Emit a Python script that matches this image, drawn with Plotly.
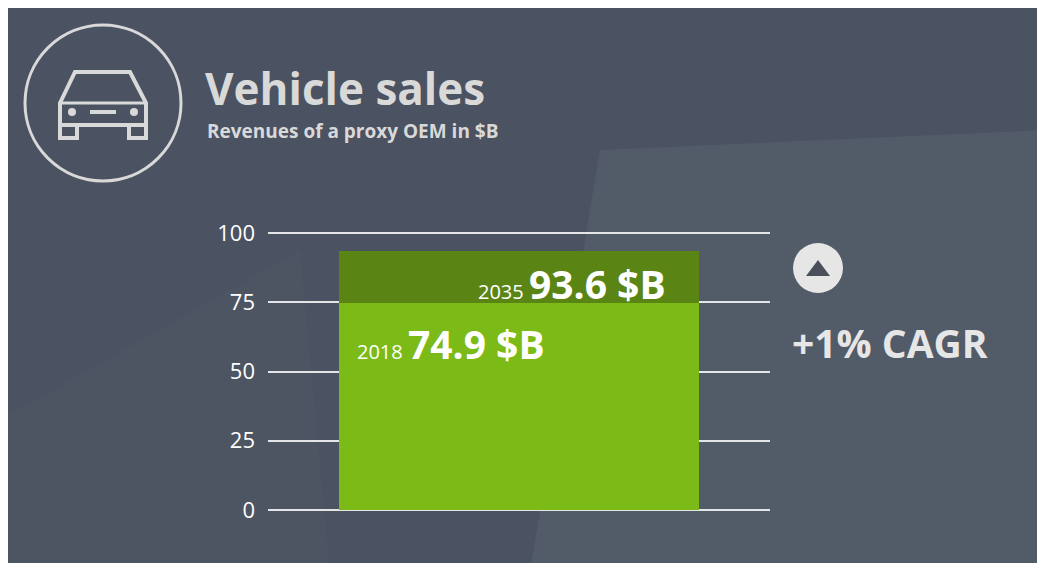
import plotly.graph_objects as go

# data
categories = ["Revenue"]
base_2018 = [74.9]
value_2035 = [93.6]
growth = [v - b for v, b in zip(value_2035, base_2018)]
tick_vals = [0, 25, 50, 75, 100]

OFF = 8  # page body margin
W, H = 1045 - 2 * OFF, 571 - 2 * OFF
L, R, T, B = 268 - OFF, 770 - OFF, 232 - OFF, 511 - OFF
PAD = 0.4


def X(px):
    return (px - OFF - L) / (R - L)


def Y(py):
    return (B - (py - OFF)) / (B - T)


fig = go.Figure()
fig.add_bar(x=categories, y=base_2018, width=0.717,
            marker=dict(color="#7cba17", line_width=0))
fig.add_bar(x=categories, y=growth, width=0.717,
            marker=dict(color="#5a8515", line_width=0))

grey = "#d9d9d9"
shapes = []
shapes.append(dict(type="path", xref="paper", yref="paper", layer="below",
                   path=f"M{X(530)},{Y(571)} L{X(600)},{Y(150)} L{X(1045)},{Y(130)} L{X(1045)},{Y(571)} Z",
                   fillcolor="rgba(90,98,112,0.55)", line_width=0))
shapes.append(dict(type="path", xref="paper", yref="paper", layer="below",
                   path=f"M{X(0)},{Y(571)} L{X(0)},{Y(420)} L{X(300)},{Y(250)} L{X(330)},{Y(571)} Z",
                   fillcolor="rgba(80,88,100,0.55)", line_width=0))
shapes.append(dict(type="circle", xref="paper", yref="paper",
                   x0=X(25), x1=X(181), y0=Y(181), y1=Y(25),
                   line=dict(color=grey, width=3)))
car = (f"M{X(60)},{Y(103)} L{X(75)},{Y(72)} L{X(130)},{Y(72)} L{X(146)},{Y(103)} "
       f"L{X(146)},{Y(125)} L{X(60)},{Y(125)} Z")
shapes.append(dict(type="path", xref="paper", yref="paper", path=car,
                   line=dict(color=grey, width=4)))
for x0, x1 in [(60, 77), (129, 146)]:
    shapes.append(dict(type="rect", xref="paper", yref="paper",
                       x0=X(x0), x1=X(x1), y0=Y(138), y1=Y(125),
                       line=dict(color=grey, width=4)))
shapes.append(dict(type="line", xref="paper", yref="paper",
                   x0=X(62), x1=X(144), y0=Y(103), y1=Y(103),
                   line=dict(color=grey, width=3)))
shapes.append(dict(type="line", xref="paper", yref="paper",
                   x0=X(90), x1=X(116), y0=Y(112), y1=Y(112),
                   line=dict(color=grey, width=4)))
for cx in (72, 134):
    shapes.append(dict(type="circle", xref="paper", yref="paper",
                       x0=X(cx - 4), x1=X(cx + 4), y0=Y(116), y1=Y(108),
                       fillcolor=grey, line_width=0))
shapes.append(dict(type="circle", xref="paper", yref="paper",
                   x0=X(793), x1=X(843), y0=Y(293), y1=Y(243),
                   fillcolor="#e6e6e6", line_width=0))
shapes.append(dict(type="path", xref="paper", yref="paper",
                   path=f"M{X(806)},{Y(276)} L{X(818)},{Y(260)} L{X(830)},{Y(276)} Z",
                   fillcolor="#4a4f5a", line_width=0))

ann = [
    dict(x=X(203), y=Y(88), text="<b>Vehicle sales</b>", xanchor="left",
         font=dict(size=44, color=grey)),
    dict(x=X(205), y=Y(131), text="<b>Revenues of a proxy OEM in $B</b>", xanchor="left",
         font=dict(size=19, color=grey)),
    dict(x=X(476), y=Y(283), text="2035 <b><span style='font-size:39px'>93.6 $B</span></b>",
         xanchor="left", font=dict(size=20, color="white")),
    dict(x=X(355), y=Y(343), text="2018 <b><span style='font-size:39px'>74.9 $B</span></b>",
         xanchor="left", font=dict(size=20, color="white")),
    dict(x=X(790), y=Y(342), text="<b>+1% CAGR</b>", xanchor="left",
         font=dict(size=39, color="#e6e6e6")),
]
for a in ann:
    a.update(xref="paper", yref="paper", showarrow=False, yanchor="middle")

fig.update_layout(
    width=W, height=H, barmode="stack", showlegend=False,
    margin=dict(l=L, r=W - R, t=T, b=H - B),
    paper_bgcolor="#4b5261", plot_bgcolor="rgba(0,0,0,0)",
    font=dict(family="Open Sans", color="white"),
    shapes=shapes, annotations=ann,
    xaxis=dict(visible=False, range=[-0.5, 0.5]),
    yaxis=dict(range=[-PAD, 100 + PAD], tickvals=tick_vals, showgrid=True,
               gridcolor="rgba(255,255,255,0.85)", gridwidth=1.5, zeroline=False,
               ticks="", ticklabelstandoff=12, tickfont=dict(size=22, color="white")),
)
fig.write_html("out.html")
